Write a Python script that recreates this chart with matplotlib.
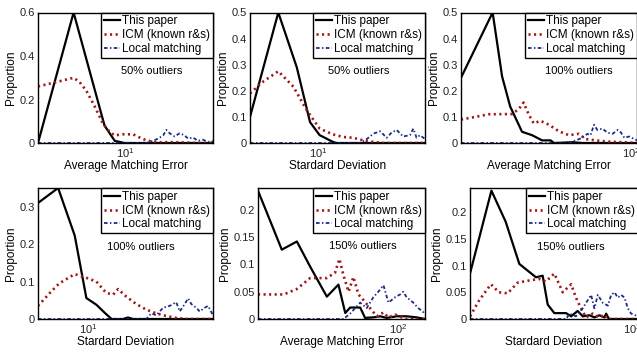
import matplotlib
matplotlib.use("Agg")
import matplotlib.pyplot as plt
from matplotlib.ticker import FuncFormatter, NullFormatter

plt.rcParams['font.family'] = ['Liberation Sans', 'DejaVu Sans']
plt.rcParams['mathtext.fontset'] = 'custom'
plt.rcParams['mathtext.rm'] = 'Liberation Sans'

labels = ["This paper", "ICM (known r&s)", "Local matching"]

# ---------- Panel 1: Average Matching Error, 50% outliers ----------
p1_xlim = [2, 50]
p1_black_x = [2, 3.85, 6.8, 8.2, 9.8, 50]
p1_black_y = [0, 0.60, 0.08, 0.01, 0, 0]
p1_red_x = [2, 2.8, 3.85, 4.3, 4.87, 5.7, 6.6, 7.5, 8.2, 9.5, 11.5, 13.0, 14.7, 17.6, 23.9, 39, 50]
p1_red_y = [0.26, 0.28, 0.30, 0.28, 0.24, 0.166, 0.09, 0.05, 0.035, 0.04, 0.04, 0.025, 0.012, 0.003, 0.004, 0, 0]
p1_blue_x = [2, 14.7, 16.6, 18.2, 20, 21.2, 22.5, 24.7, 27.1, 29.7, 31.6, 34.6, 37.9, 41.6, 45.6, 50]
p1_blue_y = [0, 0, 0.01, 0.02, 0.035, 0.06, 0.045, 0.03, 0.045, 0.035, 0.02, 0.025, 0.01, 0.015, 0.005, 0.008]

# ---------- Panel 2: Standard Deviation, 50% outliers ----------
p2_xlim = [4, 42]
p2_black_x = [4, 5.85, 7.5, 8.96, 10.2, 12.2, 12.8, 42]
p2_black_y = [0.10, 0.50, 0.29, 0.08, 0.03, 0.004, 0, 0]
p2_red_x = [4, 4.79, 5.85, 7.16, 8.57, 10.2, 12.2, 14, 16, 18.4, 21, 24, 42]
p2_red_y = [0.19, 0.236, 0.275, 0.216, 0.126, 0.055, 0.033, 0.023, 0.02, 0.01, 0.004, 0, 0]
p2_blue_x = [4, 17.5, 19.2, 21, 23, 25.1, 26.8, 28.7, 31.3, 34.3, 35.9, 37.5, 39.3, 42]
p2_blue_y = [0, 0, 0.015, 0.036, 0.045, 0.02, 0.04, 0.05, 0.025, 0.03, 0.055, 0.02, 0.03, 0.015]

# ---------- Panel 3: Average Matching Error, 100% outliers ----------
p3_xlim = [11.5, 108]
p3_black_x = [11.5, 17.2, 19.4, 21.5, 25, 28.4, 32.3, 36, 37.5, 47.3, 54, 108]
p3_black_y = [0.25, 0.50, 0.255, 0.14, 0.043, 0.03, 0.01, 0.01, 0, 0.003, 0, 0]
p3_red_x = [11.5, 13.8, 16.3, 22, 24, 25.5, 27.2, 29, 31.6, 35.2, 39.9, 45.4, 51.5, 56.2, 64, 75.7, 89.8, 108]
p3_red_y = [0.09, 0.10, 0.11, 0.111, 0.13, 0.155, 0.11, 0.075, 0.085, 0.07, 0.045, 0.03, 0.035, 0.015, 0.01, 0.005, 0.003, 0]
p3_blue_x = [11.5, 45.4, 49.4, 54, 57.4, 59.8, 62.5, 65.2, 69.5, 74.1, 79.1, 84.4, 88.1, 91.9, 97.8, 104.3, 108]
p3_blue_y = [0, 0, 0.01, 0.02, 0.035, 0.03, 0.07, 0.05, 0.055, 0.04, 0.035, 0.05, 0.04, 0.02, 0.025, 0.015, 0.01]

# ---------- Panel 4: Standard Deviation, 100% outliers ----------
p4_xlim = [5, 56]
p4_black_x = [5, 6.6, 8.3, 9.75, 11.2, 12.6, 13.8, 16.2, 17.3, 18.6, 56]
p4_black_y = [0.31, 0.35, 0.223, 0.056, 0.038, 0.016, 0, 0, 0.004, 0, 0]
p4_red_x = [5, 5.9, 6.7, 8.3, 9.75, 11.2, 12.8, 14.1, 15.1, 16.9, 19.4, 22.3, 25.6, 29.4, 33.7, 38.8, 56]
p4_red_y = [0.035, 0.07, 0.095, 0.12, 0.11, 0.10, 0.07, 0.065, 0.08, 0.06, 0.04, 0.025, 0.015, 0.008, 0.003, 0, 0]
p4_blue_x = [5, 22.3, 23.9, 25.6, 28.1, 30.8, 33.7, 35.4, 37.9, 39.7, 41.5, 44.5, 46.6, 49.9, 52.3, 56]
p4_blue_y = [0, 0, 0.015, 0.01, 0.03, 0.035, 0.045, 0.02, 0.04, 0.055, 0.04, 0.03, 0.02, 0.03, 0.035, 0.01]

# ---------- Panel 5: Average Matching Error, 150% outliers ----------
p5_xlim = [12, 150]
p5_black_x = [12, 17.2, 21.6, 26.4, 34, 40.5, 44.9, 48.4, 56.3, 60.6, 68.7, 76, 84, 98, 113.5, 132, 150]
p5_black_y = [0.235, 0.127, 0.142, 0.096, 0.041, 0.063, 0.011, 0.021, 0.021, 0.002, 0.003, 0.005, 0.002, 0.005, 0.005, 0.003, 0]
p5_red_x = [12, 17.7, 21.6, 26.4, 34, 38.5, 41.1, 43.7, 47.2, 50.8, 54.8, 59, 65.3, 72.3, 80, 86.3, 95.5, 105.5, 113.5, 150]
p5_red_y = [0.045, 0.045, 0.055, 0.075, 0.075, 0.085, 0.11, 0.08, 0.05, 0.077, 0.045, 0.035, 0.02, 0.005, 0.012, 0.003, 0.008, 0.003, 0, 0]
p5_blue_x = [12, 43.7, 48.4, 56.3, 62.1, 68.7, 74.1, 80, 86.3, 95.5, 103, 108, 113.5, 125.6, 135.5, 150]
p5_blue_y = [0, 0, 0.01, 0.03, 0.02, 0.04, 0.05, 0.062, 0.03, 0.04, 0.045, 0.05, 0.04, 0.03, 0.02, 0.01]

# ---------- Panel 6: Standard Deviation, 150% outliers ----------
p6_xlim = [11.5, 108]
p6_black_x = [11.5, 15.3, 18.5, 22.2, 27.7, 30.3, 32.4, 35.4, 41.4, 44.3, 48.3, 51.7, 56.5, 60.4, 64.6, 69.1, 70.6, 73.3, 108]
p6_black_y = [0.085, 0.24, 0.182, 0.103, 0.078, 0.081, 0.027, 0.011, 0.011, 0.005, 0.015, 0.005, 0.007, 0.003, 0.007, 0.003, 0.01, 0, 0]
p6_red_x = [11.5, 13, 15.2, 16.9, 19, 21.7, 25.4, 28.9, 31.6, 35.4, 39.6, 44.3, 47.2, 50.5, 54, 59.1, 64.6, 69.1, 72.3, 108]
p6_red_y = [0.005, 0.035, 0.065, 0.05, 0.048, 0.068, 0.072, 0.075, 0.07, 0.085, 0.05, 0.065, 0.04, 0.02, 0.003, 0.01, 0.003, 0.008, 0, 0]
p6_blue_x = [11.5, 41.4, 43.3, 47.2, 50.5, 54, 57.8, 60.4, 63.2, 67.6, 72.3, 75.5, 79.1, 82.4, 86.3, 90.2, 94.3, 98.6, 108]
p6_blue_y = [0, 0, 0.01, 0.005, 0.015, 0.03, 0.045, 0.02, 0.045, 0.03, 0.025, 0.045, 0.05, 0.04, 0.045, 0.04, 0.02, 0.01, 0.005]

panels = [
    dict(xlim=p1_xlim, ylim=[0, 0.6], yt=[0, 0.2, 0.4, 0.6], xlabel="Average Matching Error", note="50% outliers",
         bx=p1_black_x, by=p1_black_y, rx=p1_red_x, ry=p1_red_y, ux=p1_blue_x, uy=p1_blue_y,
         pos=[38, 12.5, 175, 130.5], tpos=(0.65, 0.55)),
    dict(xlim=p2_xlim, ylim=[0, 0.5], yt=[0, 0.1, 0.2, 0.3, 0.4, 0.5], xlabel="Stardard Deviation", note="50% outliers",
         bx=p2_black_x, by=p2_black_y, rx=p2_red_x, ry=p2_red_y, ux=p2_blue_x, uy=p2_blue_y,
         pos=[250, 12.5, 175, 130.5], tpos=(0.62, 0.55)),
    dict(xlim=p3_xlim, ylim=[0, 0.5], yt=[0, 0.1, 0.2, 0.3, 0.4, 0.5], xlabel="Average Matching Error", note="100% outliers",
         bx=p3_black_x, by=p3_black_y, rx=p3_red_x, ry=p3_red_y, ux=p3_blue_x, uy=p3_blue_y,
         pos=[461, 12.5, 176, 130.5], tpos=(0.67, 0.55)),
    dict(xlim=p4_xlim, ylim=[0, 0.35], yt=[0, 0.1, 0.2, 0.3], xlabel="Stardard Deviation", note="100% outliers",
         bx=p4_black_x, by=p4_black_y, rx=p4_red_x, ry=p4_red_y, ux=p4_blue_x, uy=p4_blue_y,
         pos=[38, 188, 175, 131], tpos=(0.59, 0.55)),
    dict(xlim=p5_xlim, ylim=[0, 0.24], yt=[0, 0.05, 0.1, 0.15, 0.2], xlabel="Average Matching Error", note="150% outliers",
         bx=p5_black_x, by=p5_black_y, rx=p5_red_x, ry=p5_red_y, ux=p5_blue_x, uy=p5_blue_y,
         pos=[258, 188, 167, 131], tpos=(0.63, 0.555)),
    dict(xlim=p6_xlim, ylim=[0, 0.245], yt=[0, 0.05, 0.1, 0.15, 0.2], xlabel="Stardard Deviation", note="150% outliers",
         bx=p6_black_x, by=p6_black_y, rx=p6_red_x, ry=p6_red_y, ux=p6_blue_x, uy=p6_blue_y,
         pos=[470, 188, 168, 131], tpos=(0.60, 0.55)),
]

W, H = 637, 352
fig = plt.figure(figsize=(W / 100, H / 100), dpi=100)

RED = "#a01818"
BLUE = "#1e2a8a"
FS = 8

for p in panels:
    x0, ytop, w, h = p["pos"]
    ax = fig.add_axes([x0 / W, (H - ytop - h) / H, w / W, h / H])
    ax.plot(p["bx"], p["by"], color="black", lw=1.6, label=labels[0])
    ax.plot(p["rx"], p["ry"], color=RED, lw=1.9, linestyle=(0, (0.8, 1.3)), label=labels[1])
    ax.plot(p["ux"], p["uy"], color=BLUE, lw=1.3, linestyle=(0, (2, 1.3, 0.8, 1.3)), label=labels[2])
    ax.set_xscale("log")
    ax.set_xlim(p["xlim"])
    ax.set_ylim(p["ylim"])
    ax.set_yticks(p["yt"])
    ax.yaxis.set_major_formatter(FuncFormatter(lambda v, pos: "%g" % v))
    ax.xaxis.set_minor_formatter(NullFormatter())
    ax.tick_params(axis="both", which="both", length=0, labelsize=FS, pad=2, colors="#222222")
    ax.set_xlabel(p["xlabel"], fontsize=FS + 0.5, labelpad=0)
    ax.set_ylabel("Proportion", fontsize=FS + 0.5, labelpad=2)
    for s in ax.spines.values():
        s.set_linewidth(1.0)
        s.set_color("black")
    ax.text(p["tpos"][0], p["tpos"][1], p["note"], transform=ax.transAxes,
            fontsize=FS, ha="center", va="center")
    leg = ax.legend(loc="upper right", fontsize=FS + 0.5, frameon=True, fancybox=False,
                    framealpha=1, edgecolor="black", borderaxespad=0, borderpad=0.25,
                    handlelength=1.3, handletextpad=0.2, labelspacing=0.15)
    leg.get_frame().set_linewidth(1.0)

fig.savefig("out.png", dpi=100)
